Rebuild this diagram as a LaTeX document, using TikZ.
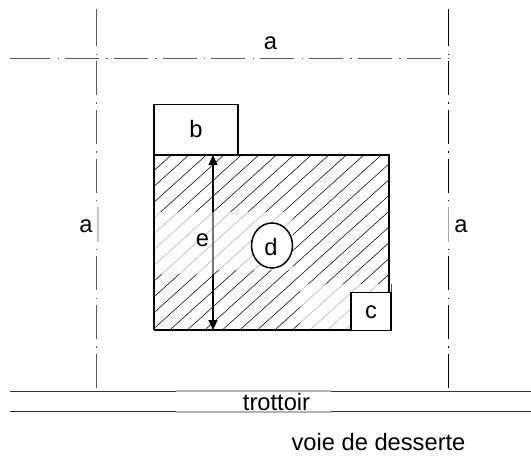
\documentclass[tikz,border=0pt]{standalone}
\usepackage{fontspec}
\setmainfont{Liberation Sans}
\usetikzlibrary{arrows.meta,shapes.geometric}

\tikzset{
lbl/.style={inner sep=0pt,font=\fontsize{23.7}{25}\selectfont},
axis/.style={line width=1pt,dash pattern=on 34pt off 7.3pt on 1.5pt off 6pt},
hatch/.style={line width=0.55pt},
wall/.style={line width=1.3pt,draw=black,fill=white},
}
\newcommand{\hatchlines}[1]{
\foreach \i in {0,...,24} {
\draw[hatch,#1] ({-22.7+17.5*\i},330) -- ({171.3+17.5*\i},155);
}
}

\begin{document}
\begin{tikzpicture}[x=1pt,y=-1pt]
\useasboundingbox (0,0) rectangle (531,466);

% hatched plot
\begin{scope}
\clip (154,155) rectangle (389,330);
\hatchlines{black}
\end{scope}
\fill[white] (154,212) rectangle (293,270);
\fill[white] (154,270) rectangle (213,274);
\fill[white] (300,284) rectangle (391,330);
\begin{scope}
\clip (154,212) rectangle (293,270) (154,270) rectangle (213,274) (300,284) rectangle (389,330);
\hatchlines{black!30}
\end{scope}
\draw[line width=1.3pt] (154,330) -- (154,155) -- (389,155) -- (389,292);
\draw[line width=1.3pt] (154,330) -- (351,330);

% buildings
\node[wall,minimum width=84pt,minimum height=50pt,inner sep=0pt] (b) at (196,129.5) {};
\node[wall,minimum width=40pt,minimum height=38pt,inner sep=0pt] (c) at (371,311.5) {};
\draw[black!70,line width=1pt] (c.north east) -- +(0,-8);
\node[wall,ellipse,minimum width=41pt,minimum height=45pt,inner sep=0pt,line width=1.5pt] (d) at (272,245.5) {};

% height arrow
\coordinate (e1) at (213,155);
\coordinate (e2) at (213,330);
\draw[{Triangle[length=10pt,width=9pt]}-{Triangle[length=10pt,width=9pt]},line width=1.2pt] (e1) -- (e2);
\draw[black!55,line width=1.2pt] (213,212) -- (213,274);

% boundaries
\coordinate (t1) at (96.7,12.2);
\coordinate (t2) at (96.7,391);
\coordinate (t3) at (448.4,12.2);
\coordinate (t4) at (448.4,391);
\coordinate (h1) at (16.2,58.6);
\coordinate (h2) at (448.4,58.6);
\draw[axis,black!65] (t1) -- (t2);
\draw[axis,black] (t3) -- (t4);
\draw[line width=1pt,black!65] (96.7,9) -- (t1);
\draw[line width=1pt] (448.4,9) -- (t3);
\draw[axis,black!65] (h1) -- (h2);
\draw[line width=1pt,black!65] (9.5,58.6) -- (h1);
\fill[white] (92,203) rectangle (104,245);
\fill[white] (444,203) rectangle (454,245);
\draw[black!22,line width=2pt] (98.4,207) -- (98.4,242);
\draw[black!35,line width=1.4pt] (448.7,207) -- (448.7,242);

% road
\coordinate (r1) at (9.5,391);
\coordinate (r2) at (176,391);
\coordinate (r3) at (331,391);
\coordinate (r4) at (531,391);
\coordinate (s1) at (9.5,411.8);
\coordinate (s2) at (176,411.8);
\coordinate (s3) at (331,411.8);
\coordinate (s4) at (531,411.8);
\draw[line width=1pt,black!80] (r1) -- (r2) (r3) -- (r4);
\draw[line width=1pt,black!80] (s1) -- (s2) (s3) -- (s4);
\draw[line width=1.4pt,black!30] (r2) -- (r3);
\draw[line width=1.4pt,black!30] (s2) -- (s3);

% labels
\node[lbl] (atop) at (270.5,43) {a};
\node[lbl] (aleft) at (86,226) {a};
\node[lbl] (aright) at (461,226) {a};
\node[lbl] (lb) at (196,129) {b};
\node[lbl] (lc) at (371,312) {c};
\node[lbl] (ld) at (271,247) {d};
\node[lbl] (le) at (202.5,240) {e};
\node[lbl] (trottoir) at (276.5,402) {trottoir};
\node[lbl] (voie) at (378.5,442) {voie de desserte};
\end{tikzpicture}
\end{document}
